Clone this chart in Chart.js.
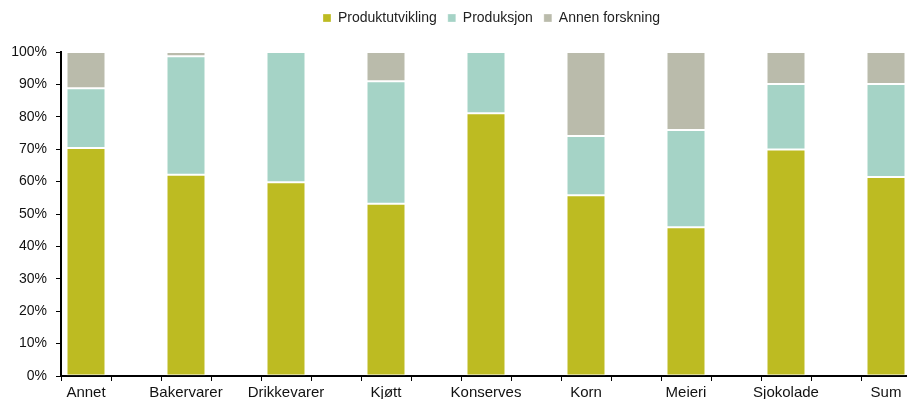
<!DOCTYPE html>
<html>
<head>
<meta charset="utf-8">
<script src="https://cdn.jsdelivr.net/npm/chart.js@4.4.1/dist/chart.umd.min.js"></script>
<style>
  html, body { margin: 0; padding: 0; background: #fff; overflow: hidden; }
  #wrap { width: 907px; height: 399px; overflow: hidden; }
  #box { width: 915px; height: 399px; position: relative; }
</style>
</head>
<body>
<div id="wrap"><div id="box"><canvas id="fou-chart"></canvas></div></div>
<script>
// Andel av FoU-innsats per bransje (prosent)
var categories = ["Annet", "Bakervarer", "Drikkevarer", "Kjøtt", "Konserves", "Korn", "Meieri", "Sjokolade", "Sum"];
var produktutvikling = [70.4, 62.1, 59.8, 53.2, 81.1, 55.8, 45.9, 69.9, 61.4];
var produksjon = [18.4, 36.6, 40.2, 37.8, 18.9, 18.3, 30.0, 20.2, 28.7];
var annenForskning = [11.2, 1.3, 0, 9.0, 0, 25.9, 24.1, 9.9, 9.9];
var yTicks = [0, 10, 20, 30, 40, 50, 60, 70, 80, 90, 100];

// every bar is followed by an empty slot, like the spreadsheet original
function spaced(arr, blank) {
  var out = [];
  arr.forEach(function (v, i) {
    out.push(v);
    if (i < arr.length - 1) out.push(blank);
  });
  return out;
}

// extra room under the legend, and legend nudged right over the plot
var legendPlace = {
  id: "legendPlace",
  beforeInit: function (chart) {
    var fit = chart.legend.fit;
    chart.legend.fit = function () {
      fit.call(this);
      this.height += 17;
    };
  },
  afterLayout: function (chart) {
    chart.legend.left += 36;
    chart.legend.right += 36;
  },
};

Chart.defaults.font.family = "'Liberation Sans', Arial, sans-serif";
Chart.defaults.color = "#000";

var config = {
  type: "bar",
  data: {
    labels: spaced(categories, ""),
    datasets: [
      { label: "Produktutvikling", data: spaced(produktutvikling, null), backgroundColor: "#bdbb22" },
      { label: "Produksjon", data: spaced(produksjon, null), backgroundColor: "#a5d3c6" },
      { label: "Annen forskning", data: spaced(annenForskning, null), backgroundColor: "#babbab" },
    ],
  },
  options: {
    responsive: true,
    maintainAspectRatio: false,
    animation: false,
    layout: { padding: { top: 0, right: 4, left: 0, bottom: 0 } },
    datasets: {
      bar: {
        barPercentage: 0.78,
        categoryPercentage: 1,
        borderColor: "rgba(255,255,255,0.3)",
        borderWidth: 1,
        borderSkipped: false,
      },
    },
    plugins: {
      legend: {
        position: "top",
        labels: {
          boxWidth: 8,
          boxHeight: 8,
          padding: 11,
          font: { size: 14 },
          color: "#222",
        },
      },
      tooltip: { enabled: false },
    },
    scales: {
      x: {
        stacked: true,
        afterFit: function (scale) { scale.height = 23; },
        grid: { offset: true, drawOnChartArea: false, tickLength: 5, color: "#000", lineWidth: 1 },
        border: { color: "#000", width: 2 },
        ticks: { autoSkip: false, maxRotation: 0, font: { size: 15 }, color: "#111", padding: 3 },
      },
      y: {
        stacked: true,
        min: 0,
        max: 100,
        afterFit: function (scale) { scale.width = 61; },
        afterBuildTicks: function (scale) {
          scale.ticks = yTicks.map(function (v) { return { value: v }; });
        },
        grid: { drawOnChartArea: false, tickLength: 5, color: "#000", lineWidth: 1 },
        border: { color: "#000", width: 2 },
        ticks: {
          font: { size: 14 },
          color: "#111",
          padding: 9,
          callback: function (v) { return v + "%"; },
        },
      },
    },
  },
  plugins: [legendPlace],
};

window.addEventListener("load", function () {
  var ctx = document.getElementById("fou-chart");
  new Chart(ctx, config);
});
</script>
</body>
</html>
